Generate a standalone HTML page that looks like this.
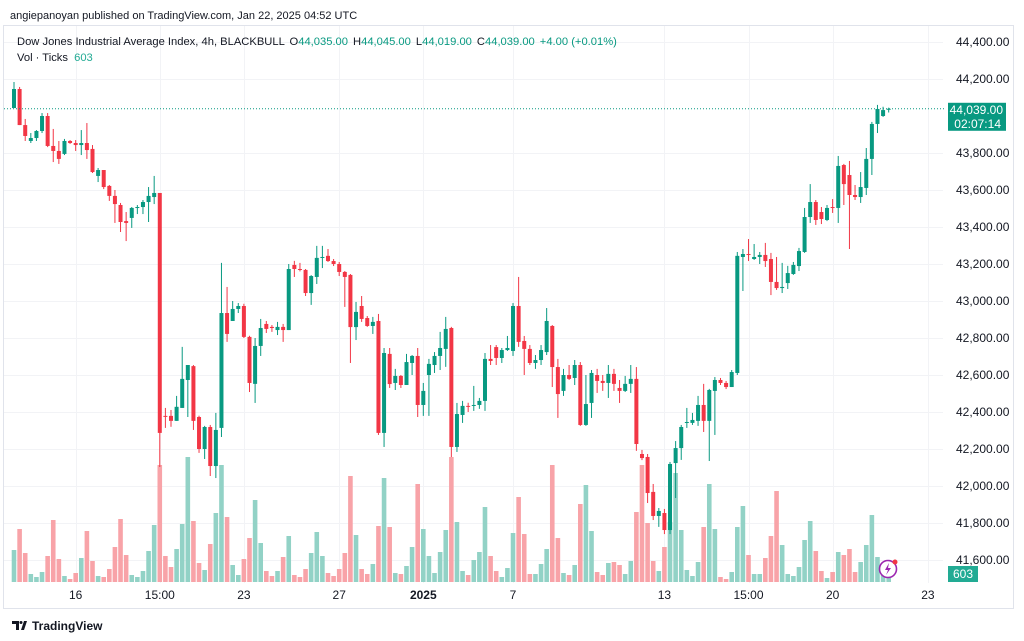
<!DOCTYPE html>
<html><head><meta charset="utf-8">
<style>
html,body{margin:0;padding:0;background:#fff;width:1024px;height:641px;overflow:hidden;font-family:"Liberation Sans",sans-serif;}
svg{display:block}
text{font-family:"Liberation Sans",sans-serif;}
</style></head>
<body>
<svg id="chart" width="1024" height="641" xmlns="http://www.w3.org/2000/svg">
<rect x="0" y="0" width="1024" height="641" fill="#fff"/>
<text x="10" y="19" font-size="11" fill="#131722">angiepanoyan published on TradingView.com, Jan 22, 2025 04:52 UTC</text>
<rect x="3.5" y="25.5" width="1010" height="583" fill="none" stroke="#e0e3eb"/>
<g id="grid"></g>
<g id="vols"></g>
<g id="candles"></g>
<g id="axes"></g>
<text x="17" y="45" font-size="11.2" fill="#131722">Dow Jones Industrial Average Index, 4h, BLACKBULL <tspan dx="2">O</tspan><tspan fill="#089981">44,035.00</tspan><tspan dx="5">H</tspan><tspan fill="#089981">44,045.00</tspan><tspan dx="5">L</tspan><tspan fill="#089981">44,019.00</tspan><tspan dx="5">C</tspan><tspan fill="#089981">44,039.00</tspan><tspan dx="5" fill="#089981">+4.00 (+0.01%)</tspan></text>
<text x="17" y="61" font-size="11.2" fill="#131722">Vol · Ticks <tspan dx="3" fill="#22ab94">603</tspan></text>
<g>
<path d="M12 621h7v9h-3v-6h-4z M21 630l3-9h3l-3 9z" fill="#131722"/>
<circle cx="21" cy="622.5" r="1.5" fill="#131722"/>
<text x="32" y="630" font-size="12" font-weight="bold" fill="#131722">TradingView</text>
</g>
<g>
<circle cx="888" cy="569" r="8.5" fill="#fff" stroke="#9c27b0" stroke-width="1.6"/>
<path d="M889 563l-4 7h3l-2 5 5-7h-3z" fill="#9c27b0"/>
<circle cx="895" cy="562" r="2.5" fill="#f23645"/>
</g>
</svg>
<script>
const opens=[44043,44146,43951,43865,43881,43919,44000,43838,43811,43795,43865,43854,43843,43854,43822,43676,43708,43622,43568,43519,43432,43449,43503,43508,43535,43562,43584,42379,42379,42352,42422,42573,42648,42373,42200,42319,42108,42314,42935,42892,42957,42973,42806,42552,42757,42876,42860,42843,42860,42843,43195,43173,43168,43043,43130,43233,43244,43216,43200,43157,43141,42859,42973,42908,42865,42892,42287,42714,42557,42595,42546,42665,42703,42438,42600,42654,42703,42741,42854,42211,42384,42433,42433,42438,42460,42687,42751,42692,42735,42730,42973,42784,42741,42665,42681,42724,42865,42643,42514,42600,42584,42654,42330,42449,42600,42568,42557,42606,42530,42514,42552,42579,42173,42157,41968,41838,41854,41762,42124,42205,42341,42341,42352,42438,42352,42514,42573,42557,42535,42611,43238,43254,43227,43238,43249,43227,43103,43070,43097,43146,43189,43265,43454,43535,43481,43438,43508,43503,43735,43681,43573,43562,43611,43768,43957,44000,44035];
const highs=[44184,44157,43984,43908,43924,44016,44016,43930,43865,43876,43870,43870,43924,43962,43843,43719,43708,43627,43600,43530,43481,43508,43519,43546,43616,43676,43584,42422,42411,42487,42752,42654,42654,42380,42325,42330,42395,43206,43076,43000,42989,42985,42812,42800,42903,42892,42870,42887,42876,43200,43217,43206,43173,43140,43298,43298,43281,43227,43211,43162,43146,42995,43027,42919,42914,42930,42746,42746,42633,42600,42714,42708,42746,42557,42687,42724,42833,42914,42860,42449,42460,42450,42541,42476,42719,42762,42762,42746,42811,42989,43130,42811,42762,42708,42762,42962,42870,42687,42633,42654,42681,42670,42600,42627,42633,42600,42654,42633,42573,42595,42654,42643,42195,42173,42011,41881,41876,42130,42243,42330,42422,42395,42487,42552,42525,42589,42584,42568,42627,43265,43281,43335,43308,43265,43314,43260,43238,43206,43190,43211,43287,43503,43632,43546,43508,43519,43551,43784,43741,43757,43627,43697,43827,43968,44060,44050,44045];
const lows=[44043,43951,43865,43854,43865,43908,43832,43751,43741,43789,43849,43811,43789,43768,43692,43643,43605,43541,43422,43373,43324,43395,43470,43470,43427,43524,42103,42314,42320,42352,42422,42373,42303,42179,42146,42054,42043,42265,42779,42892,42935,42800,42508,42449,42703,42827,42833,42816,42779,42843,43130,43160,43027,42979,43092,43178,43211,43189,43135,42968,42665,42789,42887,42860,42822,42276,42211,42530,42519,42530,42546,42600,42373,42379,42379,42611,42627,42644,42157,42184,42341,42400,42406,42417,42406,42654,42654,42665,42730,42703,42752,42600,42654,42633,42654,42708,42535,42368,42487,42573,42546,42325,42325,42368,42503,42514,42476,42514,42449,42508,42503,42190,42140,41908,41816,41779,41740,41740,41935,42141,42314,42330,42325,42292,42135,42276,42546,42524,42535,42600,43054,43216,43222,43200,43184,43032,43060,43043,43065,43141,43162,43260,43422,43411,43416,43432,43476,43422,43519,43281,43546,43530,43573,43681,43908,43995,44019];
const closes=[44146,43951,43892,43881,43919,44000,43838,43811,43768,43865,43854,43843,43854,43816,43697,43708,43616,43568,43524,43427,43422,43503,43508,43535,43568,43584,42287,42374,42352,42428,42579,42654,42352,42200,42319,42108,42303,42935,42822,42957,42973,42806,42557,42757,42854,42849,42854,42860,42843,43173,43173,43168,43043,43135,43233,43238,43216,43200,43157,43130,42859,42941,42903,42865,42887,42287,42719,42551,42595,42546,42670,42703,42438,42514,42660,42703,42746,42849,42211,42389,42433,42430,42438,42460,42687,42676,42692,42735,42746,42973,42779,42741,42665,42681,42735,42892,42643,42497,42600,42579,42654,42330,42443,42611,42568,42557,42606,42552,42514,42552,42579,42227,42151,41962,41838,41865,41762,42119,42205,42319,42346,42357,42438,42352,42519,42573,42557,42535,42616,43244,43254,43249,43238,43249,43216,43103,43070,43076,43151,43195,43270,43454,43535,43438,43443,43503,43503,43730,43632,43573,43562,43616,43768,43957,44038,44032,44039];
const volumes=[32,53,29,8,5,10,26,62,23,6,3,9,24,51,21,6,5,13,35,63,27,7,5,11,31,57,117,26,15,33,58,125,61,19,12,38,69,117,65,17,7,23,44,82,39,11,6,11,25,46,7,5,13,29,50,26,9,6,13,29,106,47,13,8,18,56,104,55,9,8,16,35,98,53,26,9,30,52,125,60,11,7,22,30,75,26,11,5,14,49,85,48,8,8,18,33,117,44,9,7,17,78,97,51,10,7,19,20,17,8,21,70,117,59,21,11,35,60,109,52,12,6,20,55,98,53,5,3,10,55,76,27,8,8,24,46,91,37,8,6,15,42,61,31,11,4,10,30,27,33,10,20,37,67,25,14,4];
const priceTicks=[44400,44200,43800,43600,43400,43200,43000,42800,42600,42400,42200,42000,41800,41600];
const priceTickLabels=["44,400.00","44,200.00","43,800.00","43,600.00","43,400.00","43,200.00","43,000.00","42,800.00","42,600.00","42,400.00","42,200.00","42,000.00","41,800.00","41,600.00"];
const timeTickIndex=[11,26,41,58,73,89,116,131,146,163];
const timeTickLabels=["16","15:00","23","27","2025","7","13","15:00","20","23"];
const lastPrice=44039;
const lastVolume=603;

const NS="http://www.w3.org/2000/svg";
const X0=14, STEP=5.607;
function xAt(i){return X0+i*STEP;}
function yP(p){return 42+(44400-p)*0.185;}
function yV(v){return 582-v;}
function mk(tag,attrs,parent){const e=document.createElementNS(NS,tag);for(const k in attrs)e.setAttribute(k,attrs[k]);parent.appendChild(e);return e;}

const grid=document.getElementById('grid');
priceTicks.forEach(p=>{
  const l=mk('line',{x1:4,x2:943,y1:yP(p)+0.5,y2:yP(p)+0.5,stroke:'#f2f3f6','stroke-width':1},grid);
  
  
});
timeTickIndex.forEach(i=>{
  const x=Math.round(xAt(i))+0.5;
  const l=mk('line',{x1:x,x2:x,y1:26,y2:583,stroke:'#f2f3f6','stroke-width':1},grid);
  
  
});

const vg=document.getElementById('vols');
volumes.forEach((v,i)=>{
  const up=closes[i]>=opens[i];
  const r=mk('rect',{x:xAt(i)-2.3,y:yV(v),width:4.6,height:v,fill:up?'#92d2c6':'#f8a3a8'},vg);
  
  
});

const cg=document.getElementById('candles');
opens.forEach((o,i)=>{
  const c=closes[i],up=c>=o,col=up?'#089981':'#f23645';
  const x=xAt(i);
  const w=mk('line',{x1:x,x2:x,y1:yP(highs[i]),y2:yP(lows[i]),stroke:col,'stroke-width':1},cg);
  
  
  const top=yP(Math.max(o,c)),bot=yP(Math.min(o,c));
  const b=mk('rect',{x:x-2,y:top,width:4,height:Math.max(1,bot-top),fill:col},cg);
  
  
});

const ax=document.getElementById('axes');
const lp=mk('line',{x1:4,x2:945,y1:yP(lastPrice),y2:yP(lastPrice),stroke:'#089981','stroke-width':1,'stroke-dasharray':'1 2'},ax);


priceTicks.forEach((p,k)=>{
  const t=mk('text',{x:956,y:yP(p)+4,'font-size':12,fill:'#131722'},ax);
  t.textContent=priceTickLabels[k];
  
  
});
timeTickIndex.forEach((i,k)=>{
  const t=mk('text',{x:xAt(i),y:599,'font-size':12,fill:'#131722','text-anchor':'middle','font-weight':timeTickLabels[k]==='2025'?'bold':'normal'},ax);
  t.textContent=timeTickLabels[k];
  
  
});
const pb=mk('rect',{x:948,y:yP(lastPrice)-6,width:58,height:28,fill:'#089981'},ax);


const pt=mk('text',{x:1003,y:yP(lastPrice)+5,'font-size':12,fill:'#fff','text-anchor':'end'},ax);
pt.textContent='44,039.00';


const ct=mk('text',{x:1001,y:yP(lastPrice)+19,'font-size':12,fill:'#fff','text-anchor':'end'},ax);
ct.textContent='02:07:14';


const vb=mk('rect',{x:948,y:566,width:30,height:16,fill:'#22ab94'},ax);


const vt=mk('text',{x:963,y:578,'font-size':12,fill:'#fff','text-anchor':'middle'},ax);
vt.textContent=String(lastVolume);


</script>
</body></html>
